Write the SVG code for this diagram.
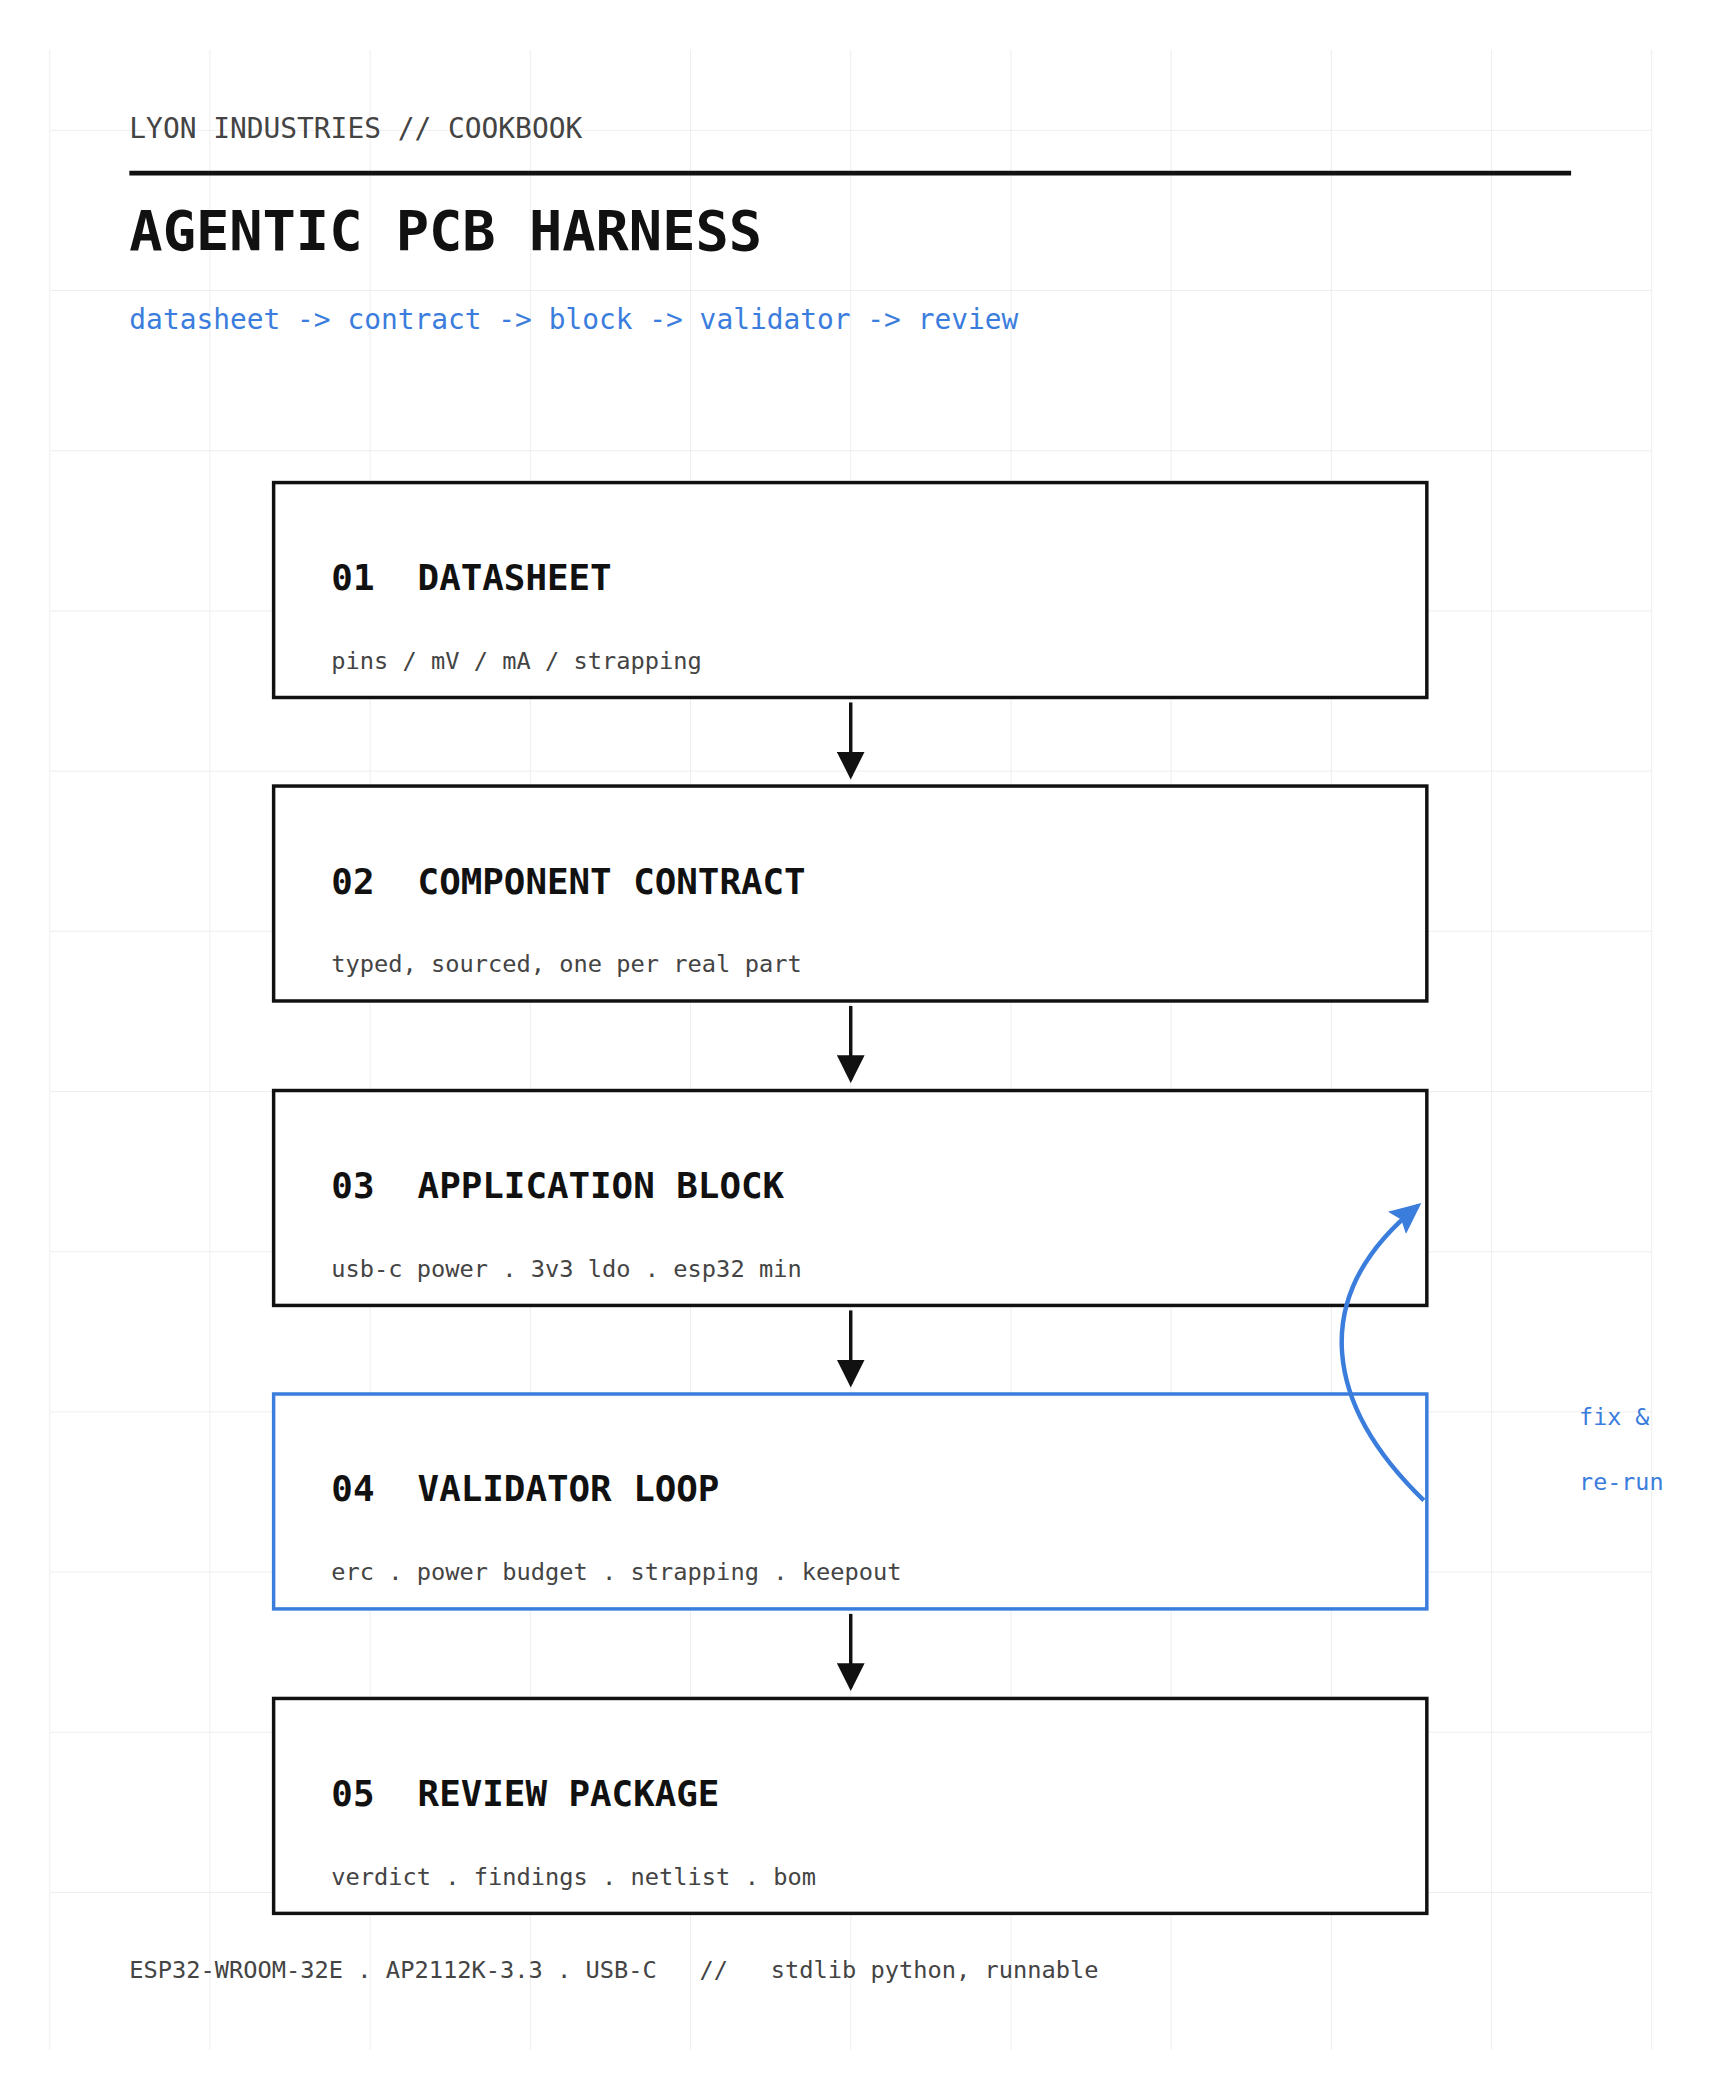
<svg xmlns="http://www.w3.org/2000/svg" width="1718" height="2100" viewBox="0 0 1718 2100">
<style>
text{font-family:"DejaVu Sans Mono","Liberation Mono",monospace;white-space:pre}
.g{stroke:#eeeeee;stroke-width:1}
.box{fill:#fff;stroke:#111;stroke-width:3.5}
.t{font-size:36px;font-weight:bold;fill:#111}
.s{font-size:23.8px;fill:#444}
.c{stroke:#111;stroke-width:3.5;fill:none}
</style>
<defs>
<marker id="a" markerWidth="8" markerHeight="8" refX="7" refY="4" orient="auto" markerUnits="strokeWidth"><path d="M0,0 L8,4 L0,8 z" fill="#111"/></marker>
<marker id="b" markerWidth="8" markerHeight="8" refX="6" refY="4" orient="auto" markerUnits="strokeWidth"><path d="M0,0.8 L7,4 L0,7.2 L1.2,4 z" fill="#3b7ddd"/></marker>
</defs>
<rect width="1718" height="2100" fill="#fff"/>
<g transform="scale(0.995)">
<g id="grid">
<path class="g" d="M50,50V2060M211,50V2060M372,50V2060M533,50V2060M694,50V2060M855,50V2060M1016,50V2060M1177,50V2060M1338,50V2060M1499,50V2060M1660,50V2060"/>
<path class="g" d="M50,131H1660M50,292H1660M50,453H1660M50,614H1660M50,775H1660M50,936H1660M50,1097H1660M50,1258H1660M50,1419H1660M50,1580H1660M50,1741H1660M50,1902H1660"/>
</g>
<g id="header">
<text x="130" y="139" font-size="28" fill="#444">LYON INDUSTRIES // COOKBOOK</text>
<line x1="130" y1="174" x2="1579" y2="174" stroke="#111" stroke-width="5"/>
<text x="130" y="251" font-size="55.6" font-weight="bold" fill="#111">AGENTIC PCB HARNESS</text>
<text x="130" y="331" font-size="28" fill="#3b7ddd">datasheet -&gt; contract -&gt; block -&gt; validator -&gt; review</text>
</g>
<g id="n1"><rect class="box" x="275" y="485" width="1159" height="216"/><text class="t" x="333" y="593" xml:space="preserve">01  DATASHEET</text><text class="s" x="333" y="672">pins / mV / mA / strapping</text></g>
<g id="n2"><rect class="box" x="275" y="790" width="1159" height="216"/><text class="t" x="333" y="898" xml:space="preserve">02  COMPONENT CONTRACT</text><text class="s" x="333" y="977">typed, sourced, one per real part</text></g>
<g id="n3"><rect class="box" x="275" y="1096" width="1159" height="216"/><text class="t" x="333" y="1204" xml:space="preserve">03  APPLICATION BLOCK</text><text class="s" x="333" y="1283">usb-c power . 3v3 ldo . esp32 min</text></g>
<g id="n4"><rect class="box" x="275" y="1401" width="1159" height="216" style="stroke:#3b7ddd"/><text class="t" x="333" y="1509" xml:space="preserve">04  VALIDATOR LOOP</text><text class="s" x="333" y="1588">erc . power budget . strapping . keepout</text></g>
<g id="n5"><rect class="box" x="275" y="1707" width="1159" height="216"/><text class="t" x="333" y="1815" xml:space="preserve">05  REVIEW PACKAGE</text><text class="s" x="333" y="1894">verdict . findings . netlist . bom</text></g>
<g id="connectors">
<line class="c" x1="855" y1="706" x2="855" y2="780" marker-end="url(#a)"/>
<line class="c" x1="855" y1="1011" x2="855" y2="1085" marker-end="url(#a)"/>
<line class="c" x1="855" y1="1317" x2="855" y2="1391" marker-end="url(#a)"/>
<line class="c" x1="855" y1="1622" x2="855" y2="1696" marker-end="url(#a)"/>
<path d="M1431,1508 C1335,1415 1310,1305 1425,1212" fill="none" stroke="#3b7ddd" stroke-width="4.5" marker-end="url(#b)"/>
<text x="1587" y="1432" font-size="23.5" fill="#3b7ddd">fix &amp;</text>
<text x="1587" y="1497" font-size="23.5" fill="#3b7ddd">re-run</text>
</g>
<text x="130" y="1988" font-size="23.8" fill="#444" xml:space="preserve">ESP32-WROOM-32E . AP2112K-3.3 . USB-C   //   stdlib python, runnable</text>
</g>
</svg>
